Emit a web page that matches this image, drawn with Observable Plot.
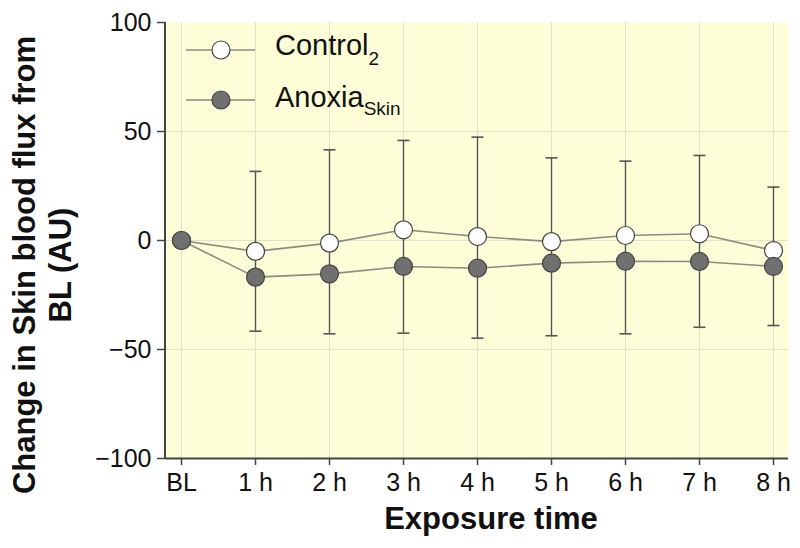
<!DOCTYPE html>
<html>
<head>
<meta charset="utf-8">
<script src="https://cdn.jsdelivr.net/npm/d3@7"></script>
<script src="https://cdn.jsdelivr.net/npm/@observablehq/plot@0.6"></script>
<style>
  html, body { margin: 0; padding: 0; background: #fff; }
  #chart svg { display: block; }
</style>
</head>
<body>
<div id="chart"></div>
<script>
const categories = ["BL", "1 h", "2 h", "3 h", "4 h", "5 h", "6 h", "7 h", "8 h"];
const controlMean = [0, -5, -1.2, 4.9, 1.8, -0.5, 2.3, 3.1, -4.6];
const controlUpper = [null, 31.7, 41.6, 45.9, 47.4, 37.9, 36.4, 39.0, 24.5];
const anoxiaMean = [0, -16.8, -15.3, -11.9, -12.7, -10.4, -9.5, -9.6, -11.9];
const anoxiaLower = [null, -41.6, -42.8, -42.5, -44.8, -43.7, -42.8, -39.8, -39.0];
const yTicks = [100, 50, 0, -50, -100];
const yGrid = [50, 0, -50];
const seriesNames = ["Control", "Anoxia"];
const seriesSubs = ["2", "Skin"];
const xTitle = "Exposure time";
const yTitle = ["Change in Skin blood flux from", "BL (AU)"];

const control = categories.map((c, i) => ({x: c, y: controlMean[i], hi: controlUpper[i]}));
const anoxia = categories.map((c, i) => ({x: c, y: anoxiaMean[i], lo: anoxiaLower[i]}));
const bars = categories.map((c, i) => ({x: c, hi: controlUpper[i], lo: anoxiaLower[i]})).filter(d => d.hi != null);

const W = 800, H = 548, mL = 165, mR = 12, mT = 22, mB = 90;
const font = "'Liberation Sans', Arial, sans-serif";

// horizontal cap symbol for error bars
const capSymbol = {
  draw(context, size) {
    const w = Math.sqrt(size / Math.PI);
    context.moveTo(-w, 0);
    context.lineTo(w, 0);
  }
};

const chart = Plot.plot({
  width: W,
  height: H,
  marginLeft: mL,
  marginRight: mR,
  marginTop: mT,
  marginBottom: mB,
  style: {fontFamily: font, fontSize: "25px", color: "#111", background: "#fff", overflow: "visible"},
  x: {type: "point", domain: categories, padding: 0.2, label: null},
  y: {domain: [-100, 100], ticks: yTicks, label: null},
  marks: [
    Plot.frame({fill: "#fdfdd8", stroke: null}),
    Plot.gridX({stroke: "#e2e2c8", strokeOpacity: 1, strokeWidth: 1}),
    Plot.gridY(yGrid, {stroke: "#e2e2c8", strokeOpacity: 1, strokeWidth: 1}),
    Plot.axisY({ticks: yTicks, tickSize: 8, tickPadding: 6, stroke: "#444", strokeWidth: 1.5, fontSize: 25, tickFormat: d => d < 0 ? "\u2212" + Math.abs(d) : String(d)}),
    Plot.axisX({tickSize: 7, tickPadding: 8, stroke: "#444", strokeWidth: 1.5, fontSize: 25}),
    Plot.ruleY([-100], {stroke: "#444", strokeWidth: 2}),
    Plot.ruleX(bars, {x: "x", y1: "lo", y2: "hi", stroke: "#555", strokeWidth: 1.4}),
    Plot.dot(bars, {x: "x", y: "hi", symbol: capSymbol, r: 6, fill: "none", stroke: "#555", strokeWidth: 1.6}),
    Plot.dot(bars, {x: "x", y: "lo", symbol: capSymbol, r: 6, fill: "none", stroke: "#555", strokeWidth: 1.6}),
    Plot.line(control, {x: "x", y: "y", stroke: "#8c8c80", strokeWidth: 1.6}),
    Plot.line(anoxia, {x: "x", y: "y", stroke: "#8c8c80", strokeWidth: 1.6}),
    Plot.dot(control, {x: "x", y: "y", r: 9, fill: "#ffffff", stroke: "#444", strokeWidth: 1.2}),
    Plot.dot(anoxia, {x: "x", y: "y", r: 9, fill: "#707070", stroke: "#444", strokeWidth: 1.2})
  ]
});

document.getElementById("chart").appendChild(chart);

const svg = d3.select(chart);
// left axis line
svg.append("line")
  .attr("x1", mL).attr("x2", mL).attr("y1", mT).attr("y2", H - mB)
  .attr("stroke", "#444").attr("stroke-width", 2);

// x title
svg.append("text")
  .attr("x", 491).attr("y", 529)
  .attr("text-anchor", "middle")
  .attr("font-family", font).attr("font-weight", "bold").attr("font-size", 31)
  .attr("fill", "#111")
  .text(xTitle);

// y title (two lines)
const yt = svg.append("text")
  .attr("transform", "translate(24,265) rotate(-90)")
  .attr("text-anchor", "middle")
  .attr("font-family", font).attr("font-weight", "bold").attr("font-size", 31)
  .attr("fill", "#111");
yt.append("tspan").attr("x", 0).attr("y", 0).attr("dy", "0.35em").text(yTitle[0]);
yt.append("tspan").attr("x", 0).attr("y", 36).attr("dy", "0.35em").text(yTitle[1]);

// legend
const legendRows = [
  {y: 50, fill: "#ffffff", base: 55, subDy: 10},
  {y: 100, fill: "#707070", base: 107, subDy: 8}
];
legendRows.forEach((r, i) => {
  const g = svg.append("g");
  g.append("line").attr("x1", 186).attr("x2", 255).attr("y1", r.y).attr("y2", r.y)
    .attr("stroke", "#8c8c80").attr("stroke-width", 1.6);
  g.append("circle").attr("cx", 221).attr("cy", r.y).attr("r", 9)
    .attr("fill", r.fill).attr("stroke", "#444").attr("stroke-width", 1.2);
  const t = g.append("text").attr("x", 275).attr("y", r.base)
    .attr("text-anchor", "start")
    .attr("font-family", font).attr("font-size", 29).attr("fill", "#111");
  t.append("tspan").text(seriesNames[i]);
  t.append("tspan").attr("dy", r.subDy).attr("font-size", 19).text(seriesSubs[i]);
});
</script>
</body>
</html>
